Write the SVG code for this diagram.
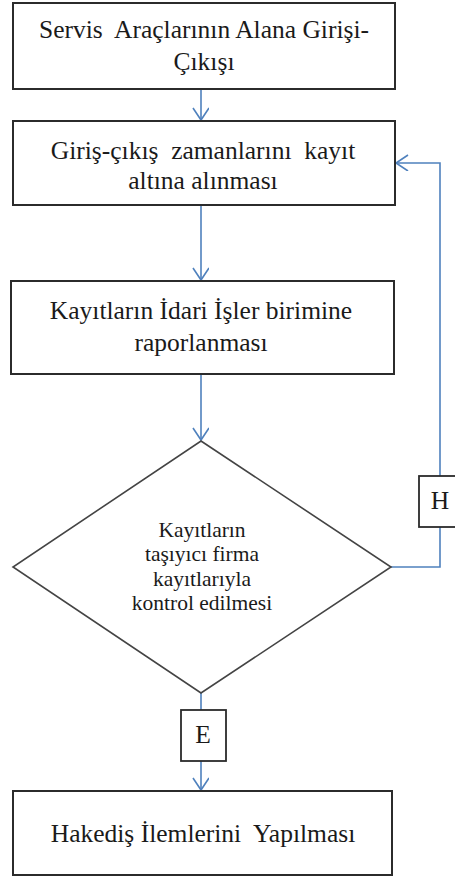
<svg xmlns="http://www.w3.org/2000/svg" width="455" height="878" viewBox="0 0 455 878">
  <style>
    .box { fill: #ffffff; stroke: #2b2b2b; stroke-width: 2; }
    .dia { fill: #ffffff; stroke: #444444; stroke-width: 1.6; }
    .lbl { fill: #ffffff; stroke: #2b2b2b; stroke-width: 1.8; }
    .t { font-size: 25.5px; fill: #1a1a1a; text-anchor: middle; }
    .td { font-size: 21.5px; fill: #1a1a1a; text-anchor: middle; }
    .conn { fill: none; stroke: #4f81bd; stroke-width: 1.6; }
  </style>
  <defs>
    <marker id="vee" markerWidth="18" markerHeight="18" refX="13" refY="8" orient="auto" markerUnits="userSpaceOnUse">
      <path d="M1,0 L13,8 L1,16" fill="none" stroke="#4f81bd" stroke-width="1.6"/>
    </marker>
  </defs>

  <rect width="455" height="878" fill="#ffffff"/>

  <!-- connectors -->
  <g id="connectors">
    <line class="conn" x1="201" y1="89" x2="201" y2="120" marker-end="url(#vee)"/>
    <line class="conn" x1="201" y1="205" x2="201" y2="280" marker-end="url(#vee)"/>
    <line class="conn" x1="201" y1="374" x2="201" y2="440" marker-end="url(#vee)"/>
    <polyline class="conn" points="391,567 440,567 440,163 396,163" marker-end="url(#vee)"/>
    <line class="conn" x1="201" y1="693" x2="201" y2="790" marker-end="url(#vee)"/>
  </g>

  <g font-family="'Liberation Serif', 'Times New Roman', Times, serif">
  <g id="n1">
    <rect class="box" x="13" y="3" width="382" height="86"/>
    <text class="t" x="204" y="38" xml:space="preserve">Servis  Araçlarının Alana Girişi-</text>
    <text class="t" x="204" y="70">Çıkışı</text>
  </g>

  <g id="n2">
    <rect class="box" x="13" y="121" width="382" height="84"/>
    <text class="t" x="203" y="159" xml:space="preserve">Giriş-çıkış  zamanlarını  kayıt</text>
    <text class="t" x="203" y="189">altına alınması</text>
  </g>

  <g id="n3">
    <rect class="box" x="11" y="281" width="383" height="93"/>
    <text class="t" x="201" y="319">Kayıtların İdari İşler birimine</text>
    <text class="t" x="201" y="351">raporlanması</text>
  </g>

  <g id="n4">
    <polygon class="dia" points="201,441 391,567 201,693 13,567"/>
    <text class="td" x="202" y="537">Kayıtların</text>
    <text class="td" x="202" y="561">taşıyıcı firma</text>
    <text class="td" x="202" y="586">kayıtlarıyla</text>
    <text class="td" x="202" y="610">kontrol edilmesi</text>
  </g>

  <g id="labelH">
    <rect class="lbl" x="419" y="476" width="42" height="51"/>
    <text class="t" x="440" y="509">H</text>
  </g>

  <g id="labelE">
    <rect class="lbl" x="181" y="710" width="45" height="51"/>
    <text class="t" x="203" y="743">E</text>
  </g>

  <g id="n5">
    <rect class="box" x="13" y="791" width="379" height="84"/>
    <text class="t" x="203" y="842" xml:space="preserve">Hakediş İlemlerini  Yapılması</text>
  </g>
  </g>
</svg>
